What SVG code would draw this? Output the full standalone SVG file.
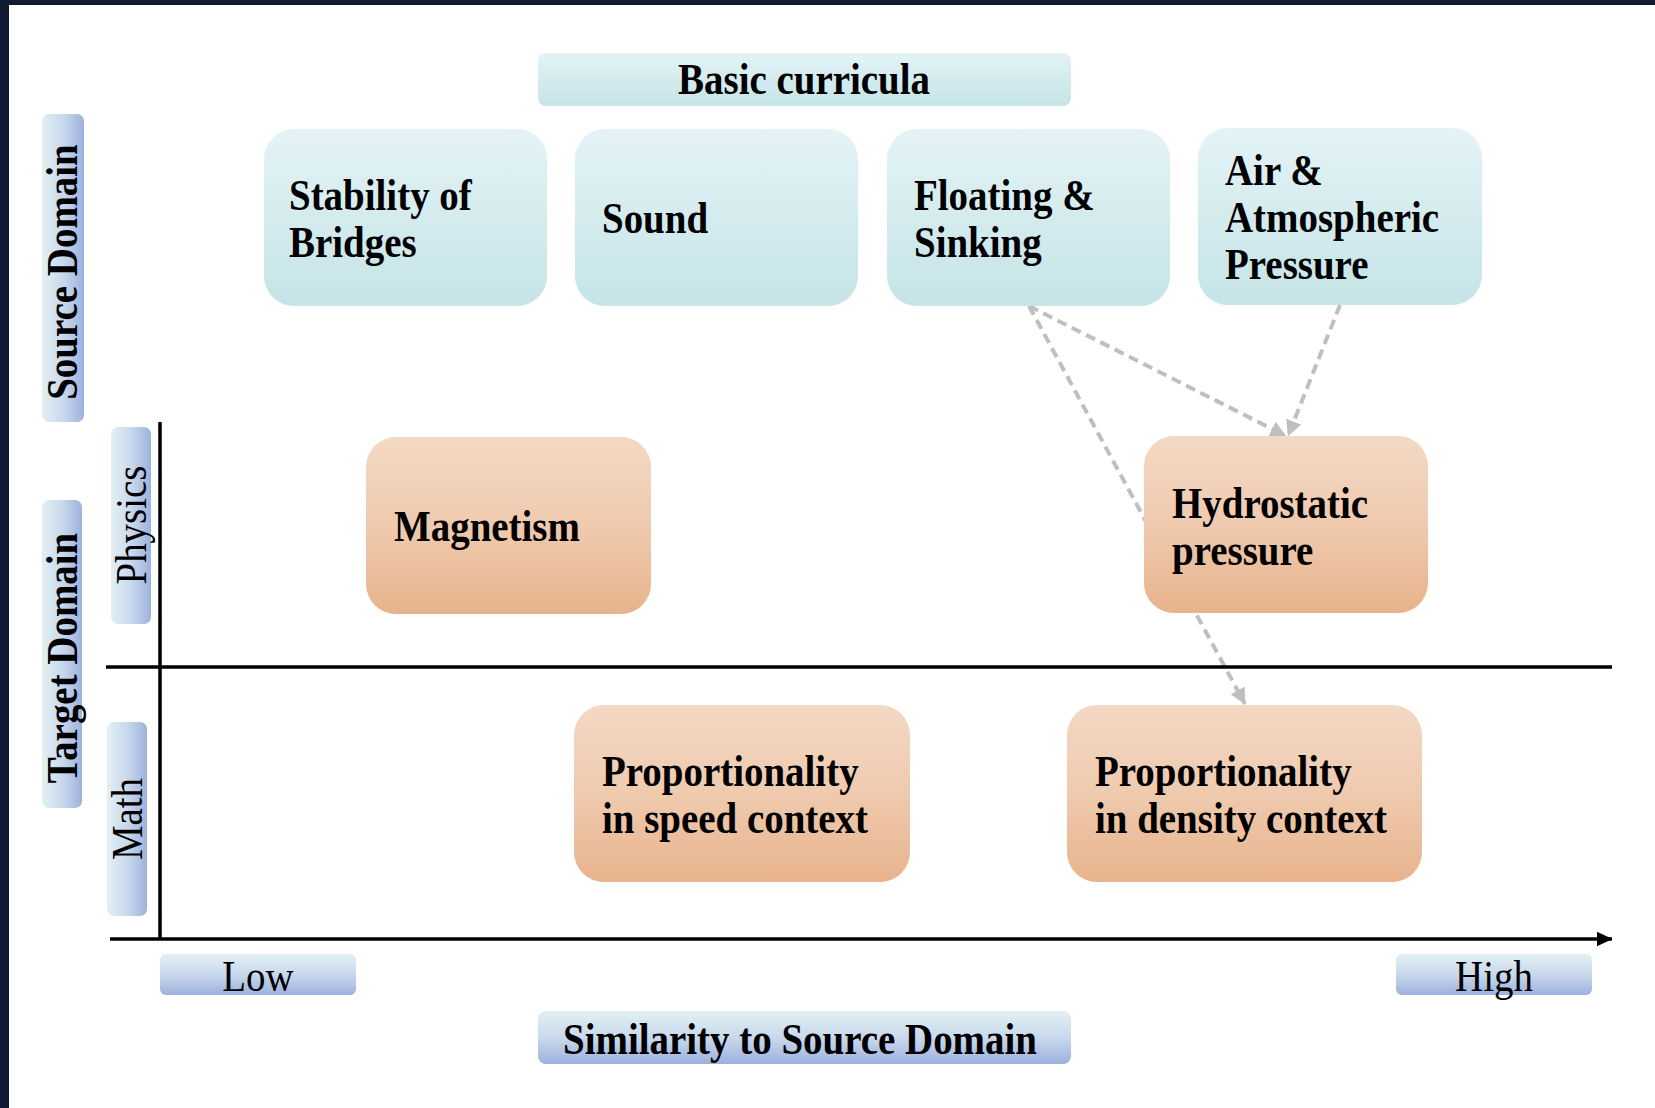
<svg xmlns="http://www.w3.org/2000/svg" width="1655" height="1108" viewBox="0 0 1655 1108">
<defs>
<linearGradient id="gTeal" x1="0" y1="0" x2="0" y2="1"><stop offset="0" stop-color="#e4f3f6"/><stop offset="1" stop-color="#c5e4e7"/></linearGradient>
<linearGradient id="gOrange" x1="0" y1="0" x2="0" y2="1"><stop offset="0" stop-color="#f3d9c5"/><stop offset="0.5" stop-color="#efcaae"/><stop offset="1" stop-color="#e8b38c"/></linearGradient>
<linearGradient id="gBlueV" x1="0" y1="0" x2="0" y2="1"><stop offset="0" stop-color="#e2f0f4"/><stop offset="0.5" stop-color="#c9d9ec"/><stop offset="1" stop-color="#9cb1de"/></linearGradient>
<linearGradient id="gBlueH" x1="0" y1="0" x2="1" y2="0"><stop offset="0" stop-color="#e2f0f4"/><stop offset="0.5" stop-color="#c9d9ec"/><stop offset="1" stop-color="#9cb1de"/></linearGradient>
<marker id="arrGray" markerUnits="userSpaceOnUse" markerWidth="16" markerHeight="16" viewBox="0 0 16 16" refX="15.5" refY="8" orient="auto"><path d="M0,0 L16,8 L0,16 Z" fill="#bfbfbf"/></marker>
<marker id="arrBlack" markerUnits="userSpaceOnUse" markerWidth="16" markerHeight="16" viewBox="0 0 16 16" refX="15.5" refY="8" orient="auto"><path d="M0,0.5 L16,8 L0,15.5 Z" fill="#000"/></marker>
<style>
.teal{fill:url(#gTeal)}
.orange{fill:url(#gOrange)}
.lblV{fill:url(#gBlueV)}
.lblH{fill:url(#gBlueH)}
.t{font-family:"Liberation Serif","Times New Roman",serif;font-size:44px;font-weight:bold;fill:#000}
.r{font-family:"Liberation Serif","Times New Roman",serif;font-size:44px;font-weight:normal;fill:#000}
.mid{text-anchor:middle}
.axis{stroke:#000;stroke-width:3.5;fill:none}
.conn{stroke:#bfbfbf;stroke-width:4;stroke-dasharray:10 6;fill:none;marker-end:url(#arrGray)}
</style>
</defs>
<rect x="0" y="0" width="1655" height="1108" fill="#fff"/>
<rect x="0" y="0" width="1655" height="5" fill="#111a33"/>
<rect x="0" y="0" width="9" height="1108" fill="#111a33"/>

<g id="connectors">
<line class="conn" x1="1029" y1="306" x2="1245" y2="704"/>
<line class="conn" x1="1029" y1="306" x2="1286" y2="436"/>
<line class="conn" x1="1340" y1="305" x2="1288" y2="436"/>
</g>

<g id="axes">
<line class="axis" x1="160" y1="422" x2="160" y2="940" stroke-width="3"/>
<line class="axis" x1="106" y1="667" x2="1612" y2="667"/>
<line class="axis" x1="110" y1="939" x2="1612" y2="939" stroke-width="4" marker-end="url(#arrBlack)"/>
</g>

<g id="basic-curricula"><rect class="teal" x="538" y="53" width="533" height="53" rx="8"/><text class="t mid" transform="translate(804,94) scale(0.885,1)">Basic curricula</text></g>

<g id="source-domain"><rect class="lblH" x="42" y="114" width="42" height="308" rx="7"/><text class="t mid" transform="translate(77,272) rotate(-90) scale(0.885,1)">Source Domain</text></g>
<g id="target-domain"><rect class="lblH" x="42" y="500" width="40" height="308" rx="7"/><text class="t mid" transform="translate(77,658) rotate(-90) scale(0.885,1)">Target Domain</text></g>
<g id="physics"><rect class="lblH" x="111" y="427" width="40" height="197" rx="7"/><text class="r mid" transform="translate(146,525) rotate(-90) scale(0.885,1)">Physics</text></g>
<g id="math"><rect class="lblH" x="107" y="722" width="40" height="194" rx="7"/><text class="r mid" transform="translate(142,819) rotate(-90) scale(0.885,1)">Math</text></g>

<g id="low"><rect class="lblV" x="160" y="954" width="196" height="41" rx="6"/><text class="r mid" transform="translate(258,991) scale(0.885,1)">Low</text></g>
<g id="high"><rect class="lblV" x="1396" y="954" width="196" height="41" rx="6"/><text class="r mid" transform="translate(1494,991) scale(0.885,1)">High</text></g>
<g id="similarity"><rect class="lblV" x="538" y="1011" width="533" height="53" rx="8"/><text class="t mid" transform="translate(800,1054) scale(0.885,1)">Similarity to Source Domain</text></g>

<g id="stability"><rect class="teal" x="264" y="129" width="283" height="177" rx="30"/><text class="t" transform="translate(289,210) scale(0.885,1)">Stability of</text><text class="t" transform="translate(289,257) scale(0.885,1)">Bridges</text></g>
<g id="sound"><rect class="teal" x="575" y="129" width="283" height="177" rx="30"/><text class="t" transform="translate(602,233) scale(0.885,1)">Sound</text></g>
<g id="floating"><rect class="teal" x="887" y="129" width="283" height="177" rx="30"/><text class="t" transform="translate(914,210) scale(0.885,1)">Floating &amp;</text><text class="t" transform="translate(914,257) scale(0.885,1)">Sinking</text></g>
<g id="air"><rect class="teal" x="1198" y="128" width="284" height="177" rx="30"/><text class="t" transform="translate(1225,185) scale(0.885,1)">Air &amp;</text><text class="t" transform="translate(1225,232) scale(0.885,1)">Atmospheric</text><text class="t" transform="translate(1225,279) scale(0.885,1)">Pressure</text></g>

<g id="magnetism"><rect class="orange" x="366" y="437" width="285" height="177" rx="30"/><text class="t" transform="translate(394,541) scale(0.885,1)">Magnetism</text></g>
<g id="hydrostatic"><rect class="orange" x="1144" y="436" width="284" height="177" rx="30"/><text class="t" transform="translate(1172,518) scale(0.885,1)">Hydrostatic</text><text class="t" transform="translate(1172,565) scale(0.885,1)">pressure</text></g>
<g id="prop-speed"><rect class="orange" x="574" y="705" width="336" height="177" rx="30"/><text class="t" transform="translate(602,786) scale(0.885,1)">Proportionality</text><text class="t" transform="translate(602,833) scale(0.885,1)">in speed context</text></g>
<g id="prop-density"><rect class="orange" x="1067" y="705" width="355" height="177" rx="30"/><text class="t" transform="translate(1095,786) scale(0.885,1)">Proportionality</text><text class="t" transform="translate(1095,833) scale(0.885,1)">in density context</text></g>
</svg>
